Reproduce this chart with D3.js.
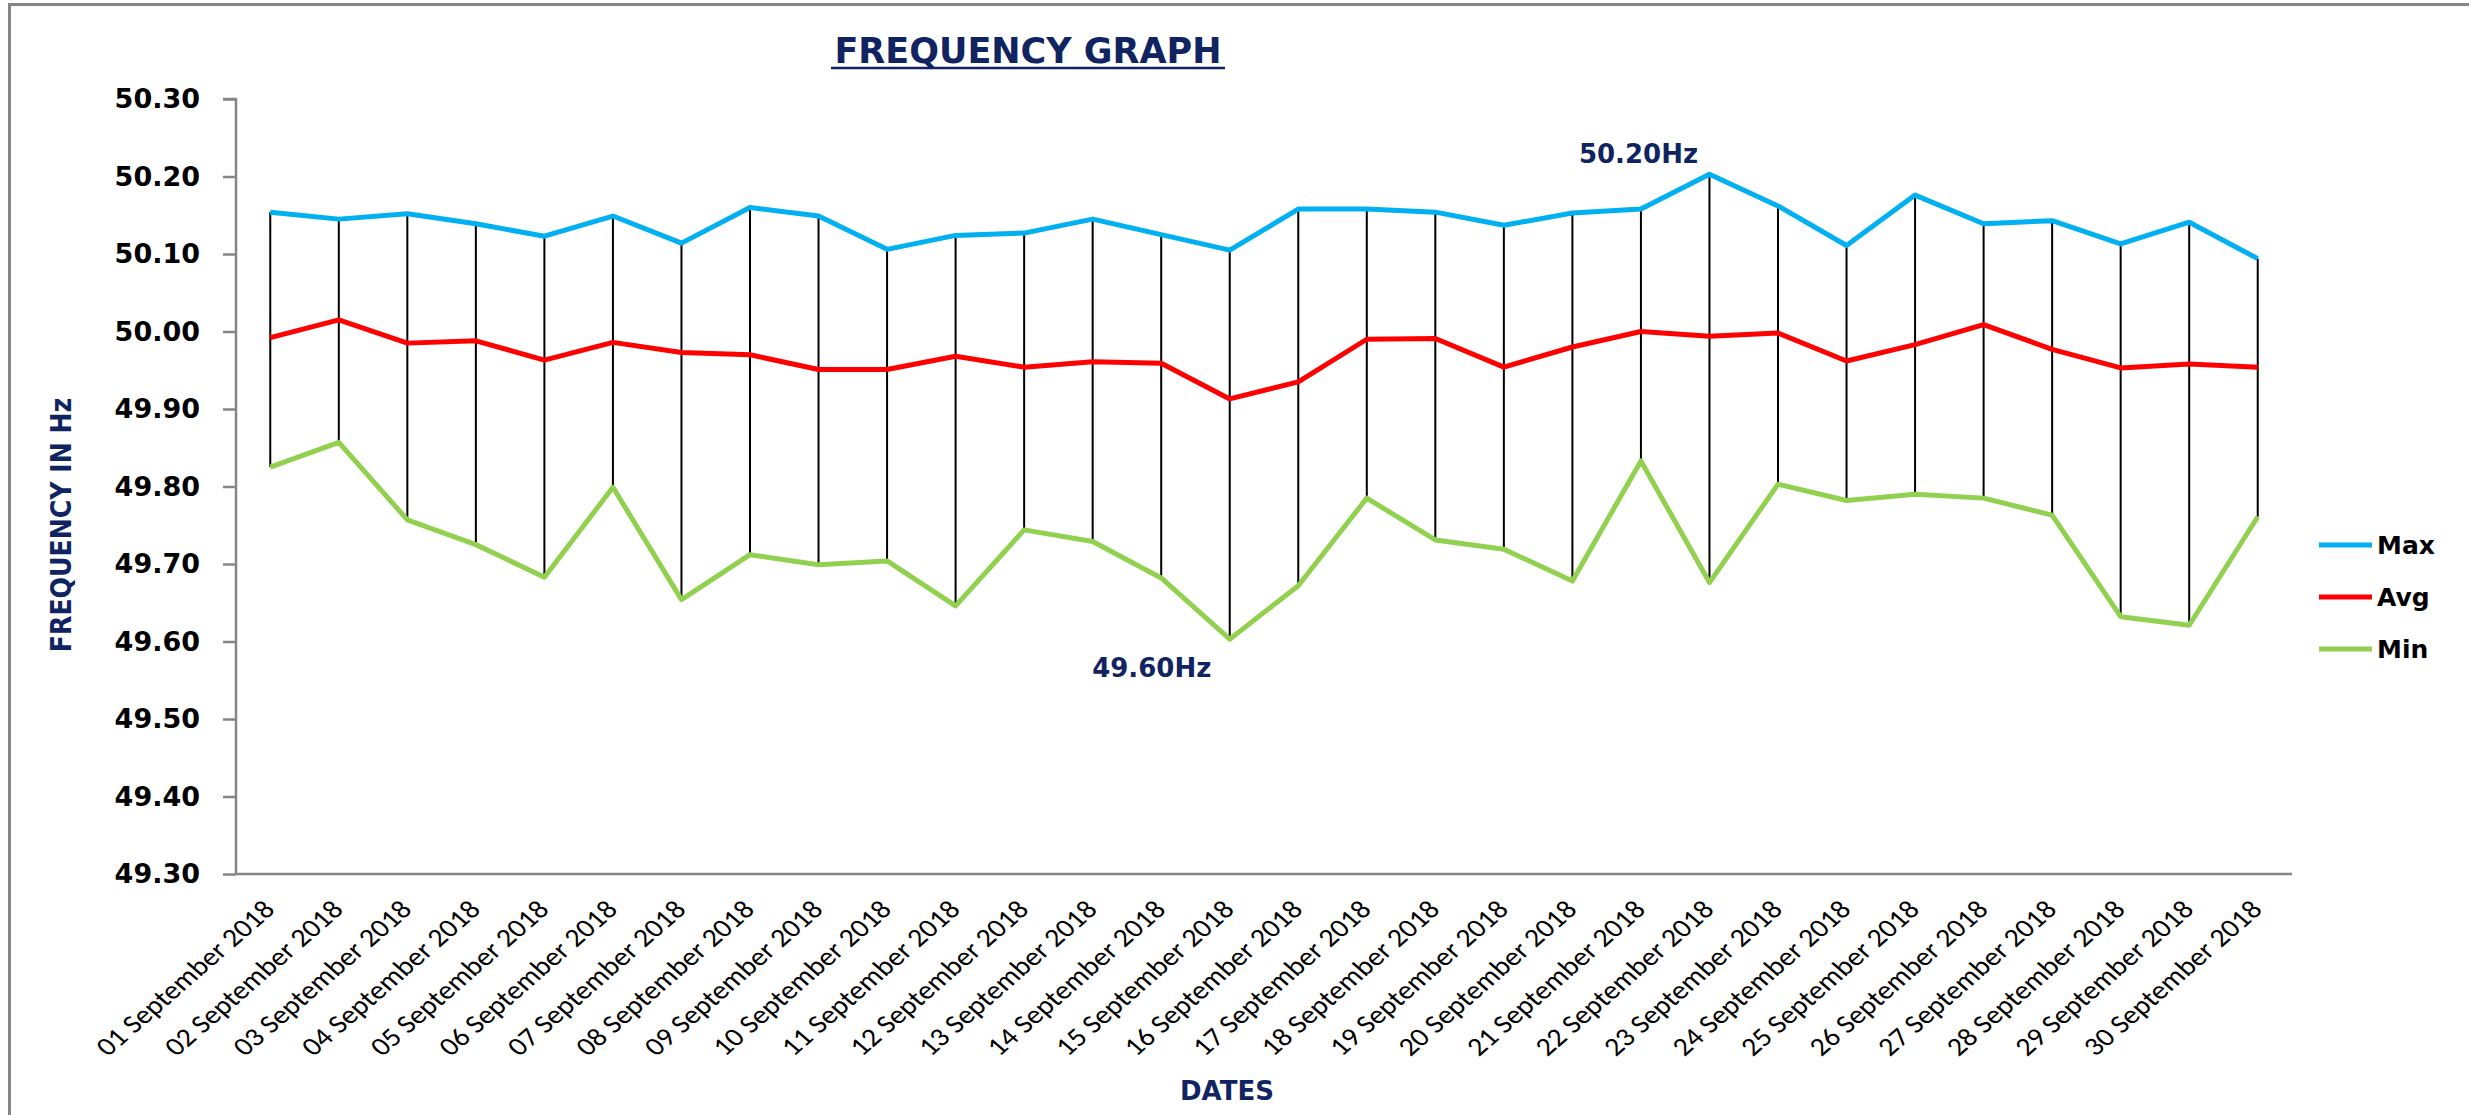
<!DOCTYPE html>
<html>
<head>
<meta charset="utf-8">
<title>Frequency Graph</title>
<script src="https://cdn.jsdelivr.net/npm/d3@7"></script>
<style>
  html, body { margin: 0; padding: 0; background: #fff; }
  svg { display: block; }
</style>
</head>
<body>
<div id="chart"></div>
<script>
// dates on the x axis
const dates = d3.range(1, 31).map(d => (d < 10 ? '0' + d : '' + d) + ' September 2018');

// daily frequency values (Hz)
const maxFreq = [50.154, 50.145, 50.152, 50.139, 50.123, 50.149, 50.114, 50.160, 50.149, 50.106,
                 50.124, 50.127, 50.145, 50.125, 50.105, 50.158, 50.158, 50.154, 50.137, 50.153,
                 50.158, 50.203, 50.162, 50.111, 50.176, 50.139, 50.143, 50.113, 50.141, 50.094];
const avgFreq = [49.992, 50.015, 49.985, 49.988, 49.963, 49.986, 49.973, 49.970, 49.951, 49.951,
                 49.968, 49.954, 49.961, 49.959, 49.913, 49.935, 49.990, 49.991, 49.954, 49.980,
                 50.000, 49.994, 49.998, 49.962, 49.983, 50.009, 49.977, 49.953, 49.958, 49.954];
const minFreq = [49.825, 49.857, 49.757, 49.725, 49.683, 49.799, 49.654, 49.712, 49.699, 49.704,
                 49.646, 49.744, 49.729, 49.682, 49.603, 49.672, 49.785, 49.731, 49.719, 49.678,
                 49.833, 49.676, 49.803, 49.782, 49.790, 49.785, 49.763, 49.632, 49.621, 49.761];

const yTicks = d3.range(0, 11).map(i => 49.3 + i * 0.1);
const seriesNames = ['Max', 'Avg', 'Min'];
const seriesColors = ['#00b0f0', '#ff0000', '#92d050'];

const width = 2469;
const height = 1115;
const margin = { top: 99, right: 177, bottom: 241, left: 236 };
const navy = '#0f2461';
const axisGray = '#868686';

const svg = d3.select('#chart')
    .append('svg')
    .attr('width', width)
    .attr('height', height);

// outer frame (top and left edges show in the picture)
svg.append('path')
    .attr('d', `M9.5,${height} L9.5,4.5 L${width},4.5`)
    .attr('fill', 'none')
    .attr('stroke', axisGray)
    .attr('stroke-width', 3);

const xScale = d3.scaleBand()
    .domain(dates)
    .range([margin.left, width - margin.right]);
const yScale = d3.scaleLinear()
    .domain([49.3, 50.3])
    .range([height - margin.bottom, margin.top]);
const cx = d => xScale(d) + xScale.bandwidth() / 2;

// y axis
const yAxis = d3.axisLeft(yScale)
    .tickValues(yTicks)
    .tickFormat(d3.format('.2f'))
    .tickSize(13)
    .tickPadding(23);

const yg = svg.append('g')
    .attr('transform', `translate(${margin.left},0)`)
    .call(yAxis);
yg.select('.domain').attr('d', `M-13,${margin.top}H0V${height - margin.bottom}`);
yg.selectAll('.domain, .tick line')
    .attr('stroke', axisGray)
    .attr('stroke-width', 2.5);
yg.selectAll('.tick text')
    .attr('fill', '#000')
    .style('font-family', '"DejaVu Sans", Verdana, sans-serif')
    .style('font-weight', 'bold')
    .style('font-size', '27px');

// x axis, labels slanted a little under 45deg like the stretched original
const xAxis = d3.axisBottom(xScale).tickSize(0);
const xg = svg.append('g')
    .attr('transform', `translate(0,${height - margin.bottom})`)
    .call(xAxis);
xg.select('.domain')
    .attr('d', `M${margin.left},0H${width - margin.right}`)
    .attr('stroke', axisGray)
    .attr('stroke-width', 2.5);
xg.selectAll('.tick text')
    .attr('y', 0)
    .attr('dy', 0)
    .attr('transform', 'translate(6,37) scale(1.15,1) rotate(-45)')
    .style('text-anchor', 'end')
    .attr('fill', '#000')
    .style('font-family', 'Calibri, Carlito, Lato, sans-serif')
    .style('font-size', '26px');

// high-low bars
svg.append('g')
    .selectAll('line')
    .data(dates)
    .enter()
    .append('line')
    .attr('x1', d => cx(d))
    .attr('x2', d => cx(d))
    .attr('y1', (d, i) => yScale(maxFreq[i]))
    .attr('y2', (d, i) => yScale(minFreq[i]))
    .attr('stroke', '#000')
    .attr('stroke-width', 2);

// series lines
const series = [maxFreq, avgFreq, minFreq];
const line = d3.line()
    .x((v, i) => cx(dates[i]))
    .y(v => yScale(v));

svg.append('g')
    .selectAll('path')
    .data(series)
    .enter()
    .append('path')
    .attr('d', d => line(d))
    .attr('fill', 'none')
    .attr('stroke', (d, i) => seriesColors[i])
    .attr('stroke-width', 5)
    .attr('stroke-linejoin', 'round');

// min / max callouts
const iMax = d3.maxIndex(maxFreq);
const iMin = d3.minIndex(minFreq);
svg.append('text')
    .attr('x', cx(dates[iMax]) - 71)
    .attr('y', yScale(maxFreq[iMax]) - 11)
    .attr('fill', navy)
    .style('text-anchor', 'middle')
    .style('font-family', '"DejaVu Sans", sans-serif')
    .style('font-weight', 'bold')
    .style('font-size', '26px')
    .text(maxFreq[iMax].toFixed(2) + 'Hz');
svg.append('text')
    .attr('x', cx(dates[iMin]) - 78)
    .attr('y', yScale(minFreq[iMin]) + 38)
    .attr('fill', navy)
    .style('text-anchor', 'middle')
    .style('font-family', '"DejaVu Sans", sans-serif')
    .style('font-weight', 'bold')
    .style('font-size', '26px')
    .text(minFreq[iMin].toFixed(2) + 'Hz');

// title
svg.append('text')
    .attr('x', 1028)
    .attr('y', 63)
    .attr('fill', navy)
    .style('text-anchor', 'middle')
    .style('font-family', '"DejaVu Sans", sans-serif')
    .style('font-weight', 'bold')
    .style('font-size', '35px')
    .text('FREQUENCY GRAPH');
svg.append('line')
    .attr('x1', 831)
    .attr('x2', 1225)
    .attr('y1', 68)
    .attr('y2', 68)
    .attr('stroke', navy)
    .attr('stroke-width', 2.5);

// axis titles
svg.append('text')
    .attr('transform', 'translate(71,525) rotate(-90)')
    .attr('fill', navy)
    .style('text-anchor', 'middle')
    .style('font-family', '"Liberation Sans Narrow", "DejaVu Sans Condensed", sans-serif')
    .style('font-weight', 'bold')
    .style('font-size', '28px')
    .text('FREQUENCY IN Hz');

svg.append('text')
    .attr('x', 1227)
    .attr('y', 1100)
    .attr('fill', navy)
    .style('text-anchor', 'middle')
    .style('font-family', '"DejaVu Sans", sans-serif')
    .style('font-weight', 'bold')
    .style('font-size', '26px')
    .text('DATES');

// legend
const legend = svg.append('g')
    .attr('transform', 'translate(2319,545)');
const item = legend.selectAll('g')
    .data(seriesNames)
    .enter()
    .append('g')
    .attr('transform', (d, i) => `translate(0,${i * 52})`);
item.append('line')
    .attr('x1', 0)
    .attr('x2', 53)
    .attr('stroke', (d, i) => seriesColors[i])
    .attr('stroke-width', 5);
item.append('text')
    .attr('x', 58)
    .attr('dy', '0.36em')
    .attr('fill', '#000')
    .style('font-family', '"DejaVu Sans", sans-serif')
    .style('font-weight', 'bold')
    .style('font-size', '25px')
    .text(d => d);
</script>
</body>
</html>
